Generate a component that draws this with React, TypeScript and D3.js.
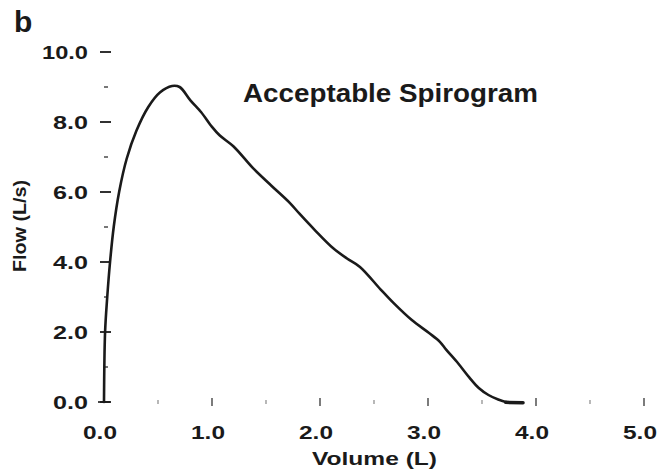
import React from "react";
import * as d3 from "d3";

const volume = [0, 0.01, 0.03, 0.056, 0.09, 0.14, 0.21, 0.3, 0.41, 0.52, 0.63, 0.7, 0.8, 0.9, 1.0, 1.07, 1.2, 1.38, 1.55, 1.72, 1.81, 1.95, 2.12, 2.25, 2.37, 2.56, 2.68, 2.85, 3.01, 3.11, 3.17, 3.28, 3.38, 3.47, 3.56, 3.65, 3.72, 3.8, 3.87];
const flow = [0, 2.0, 3.0, 4.0, 5.0, 6.0, 6.95, 7.75, 8.43, 8.85, 9.03, 9.0, 8.62, 8.28, 7.86, 7.62, 7.3, 6.68, 6.18, 5.69, 5.38, 4.92, 4.4, 4.1, 3.86, 3.22, 2.83, 2.34, 1.97, 1.72, 1.49, 1.1, 0.71, 0.4, 0.2, 0.07, 0.0, -0.02, -0.02];

const xMajorTicks = [0, 1, 2, 3, 4, 5];
const xMinorTicks = [0.5, 1.5, 2.5, 3.5, 4.5];
const xTickLabels = ["0.0", "1.0", "2.0", "3.0", "4.0", "5.0"];
const yMajorTicks = [0, 2, 4, 6, 8, 10];
const yMinorTicks = [1, 3, 5, 7, 9];
const yTickLabels = ["0.0", "2.0", "4.0", "6.0", "8.0", "10.0"];

const title = "Acceptable Spirogram";
const xTitle = "Volume (L)";
const yTitle = "Flow (L/s)";
const panel = "b";

export default function App() {
  const x = d3.scaleLinear().domain([0, 5]).range([104, 644]);
  const y = d3.scaleLinear().domain([0, 10]).range([402, 52]);
  const pts: [number, number][] = volume.map((v, i) => [v, flow[i]]);
  const line = d3
    .line<[number, number]>()
    .x((d) => x(d[0]))
    .y((d) => y(d[1]))
    .curve(d3.curveCatmullRom.alpha(0.5));
  const font = "Arial, 'Liberation Sans', Helvetica, sans-serif";
  const ink = "#1a1a1a";
  return (
    <svg
      width={659}
      height={474}
      style={{ position: "absolute", left: 0, top: 0, background: "#fff" }}
      fontFamily={font}
    >
      <rect x={0} y={0} width={659} height={474} fill="#fff" />
      <text x={14} y={32} fontSize={30} fontWeight="bold" fill={ink}>
        {panel}
      </text>
      {/* y ticks */}
      {yMajorTicks.map((t, i) => (
        <g key={"ym" + t}>
          <line x1={100} x2={111} y1={y(t)} y2={y(t)} stroke={ink} strokeWidth={1.8} />
          <text
            x={88}
            y={y(t) + 7}
            textAnchor="end"
            fontSize={19}
            fontWeight="bold"
            fill={ink}
            textLength={yTickLabels[i].length === 4 ? 46 : 35}
            lengthAdjust="spacingAndGlyphs"
          >
            {yTickLabels[i]}
          </text>
        </g>
      ))}
      {yMinorTicks.map((t) => (
        <line key={"yn" + t} x1={104} x2={108} y1={y(t)} y2={y(t)} stroke="#555" strokeWidth={1.6} />
      ))}
      {/* x ticks */}
      {xMajorTicks.map((t, i) => (
        <g key={"xm" + t}>
          {t > 0 && (
            <line x1={x(t)} x2={x(t)} y1={398} y2={406} stroke="#444" strokeWidth={1.4} />
          )}
          <text
            x={x(t) - 4}
            y={439}
            textAnchor="middle"
            fontSize={19}
            fontWeight="bold"
            fill={ink}
            textLength={34}
            lengthAdjust="spacingAndGlyphs"
          >
            {xTickLabels[i]}
          </text>
        </g>
      ))}
      {xMinorTicks.map((t) => (
        <line key={"xn" + t} x1={x(t)} x2={x(t)} y1={400} y2={404} stroke="#888" strokeWidth={1.2} />
      ))}
      <line x1={98} x2={110} y1={y(0)} y2={y(0)} stroke={ink} strokeWidth={1.6} />
      {/* curve */}
      <path d={line(pts) || ""} fill="none" stroke={ink} strokeWidth={2.6} strokeLinejoin="round" strokeLinecap="round" />
      <line x1={x(3.72)} x2={x(3.88)} y1={y(-0.01)} y2={y(-0.02)} stroke={ink} strokeWidth={3.5} strokeLinecap="round" />
      {/* titles */}
      <text
        x={243}
        y={102}
        fontSize={25}
        fontWeight="bold"
        fill={ink}
        textLength={295}
        lengthAdjust="spacingAndGlyphs"
      >
        {title}
      </text>
      <text
        x={312}
        y={465}
        fontSize={19}
        fontWeight="bold"
        fill={ink}
        textLength={125}
        lengthAdjust="spacingAndGlyphs"
      >
        {xTitle}
      </text>
      <text
        transform="translate(26,272) rotate(-90)"
        x={0}
        y={0}
        fontSize={19}
        fontWeight="bold"
        fill={ink}
        textLength={92}
        lengthAdjust="spacingAndGlyphs"
      >
        {yTitle}
      </text>
    </svg>
  );
}
